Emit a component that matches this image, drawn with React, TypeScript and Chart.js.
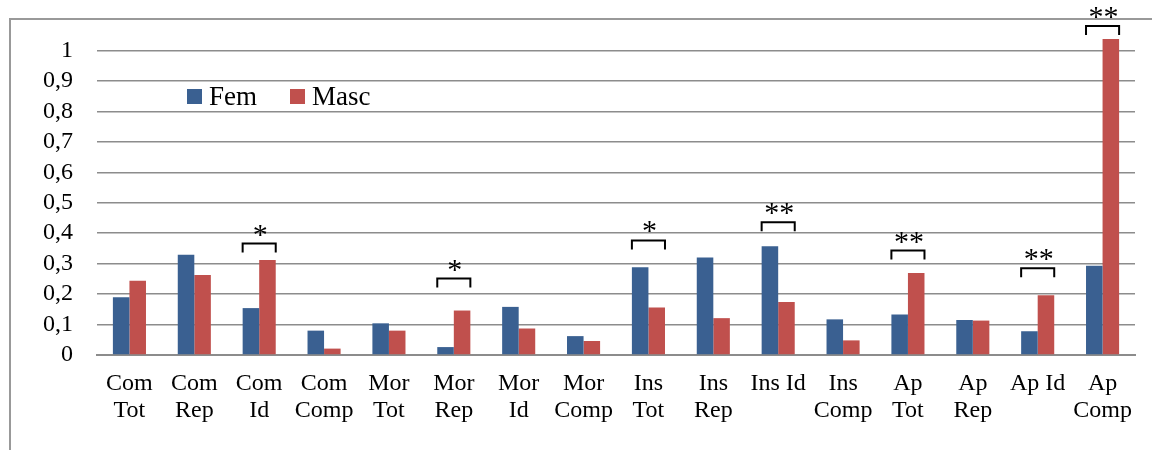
import React, { useEffect, useRef } from "react";
import { Chart, registerables } from "chart.js";

Chart.register(...registerables);

const categories: string[][] = [
  ["Com", "Tot"], ["Com", "Rep"], ["Com", "Id"], ["Com", "Comp"],
  ["Mor", "Tot"], ["Mor", "Rep"], ["Mor", "Id"], ["Mor", "Comp"],
  ["Ins", "Tot"], ["Ins", "Rep"], ["Ins Id"], ["Ins", "Comp"],
  ["Ap", "Tot"], ["Ap", "Rep"], ["Ap Id"], ["Ap", "Comp"],
];

const femValues = [0.19, 0.329, 0.154, 0.08, 0.104, 0.026, 0.158, 0.062, 0.288, 0.32, 0.357, 0.117, 0.133, 0.115, 0.078, 0.293];
const mascValues = [0.244, 0.263, 0.312, 0.021, 0.08, 0.146, 0.087, 0.046, 0.156, 0.121, 0.174, 0.048, 0.269, 0.113, 0.196, 1.038];

// significance markers: category index, bracket level (data units), marker text
const sigIndex = [2, 5, 8, 10, 12, 14, 15];
const sigLevel = [0.366, 0.251, 0.376, 0.436, 0.343, 0.285, 1.08];
const sigText = ["*", "*", "*", "**", "**", "**", "**"];

const FONT = "'Liberation Serif', 'Times New Roman', serif";
const GRID = "#8c8c8c";

const sigPlugin = {
  id: "sigPlugin",
  afterDatasetsDraw(chart: any) {
    const ctx = chart.ctx;
    const y = chart.scales.y;
    const m0 = chart.getDatasetMeta(0);
    const m1 = chart.getDatasetMeta(1);
    ctx.save();
    ctx.strokeStyle = "#000";
    ctx.lineWidth = 2;
    ctx.fillStyle = "#000";
    ctx.font = `30px ${FONT}`;
    ctx.textAlign = "center";
    ctx.textBaseline = "alphabetic";
    sigIndex.forEach((idx, k) => {
      const b0 = m0.data[idx];
      const b1 = m1.data[idx];
      const x0 = b0.x - b0.width / 2;
      const x1 = b1.x + b1.width / 2;
      const py = y.getPixelForValue(sigLevel[k]);
      ctx.beginPath();
      ctx.moveTo(x0, py + 9);
      ctx.lineTo(x0, py);
      ctx.lineTo(x1, py);
      ctx.lineTo(x1, py + 9);
      ctx.stroke();
      ctx.fillText(sigText[k], (x0 + x1) / 2 + 1, py);
    });
    ctx.restore();
  },
};

const legendPlugin = {
  id: "inLegend",
  afterDraw(chart: any) {
    const ctx = chart.ctx;
    ctx.save();
    ctx.font = `27px ${FONT}`;
    ctx.textBaseline = "alphabetic";
    ctx.textAlign = "left";
    const startX = [187, 290];
    chart.data.datasets.forEach((ds: any, i: number) => {
      ctx.fillStyle = ds.backgroundColor;
      ctx.fillRect(startX[i], 89, 15, 15);
      ctx.fillStyle = "#000";
      ctx.fillText(ds.label, startX[i] + 22, 105);
    });
    ctx.restore();
  },
};

export default function App() {
  const ref = useRef<HTMLCanvasElement>(null);
  useEffect(() => {
    if (!ref.current) return;
    const chart = new Chart(ref.current, {
      type: "bar",
      data: {
        labels: categories,
        datasets: [
          { label: "Fem", data: femValues, backgroundColor: "#3A6091" },
          { label: "Masc", data: mascValues, backgroundColor: "#C0504D" },
        ],
      },
      options: {
        animation: false,
        responsive: false,
        devicePixelRatio: 1,
        layout: { padding: { top: 20, right: 17, left: 0, bottom: 0 } },
        plugins: { legend: { display: false }, tooltip: { enabled: false } },
        datasets: { bar: { categoryPercentage: 0.51, barPercentage: 1 } },
        scales: {
          x: {
            grid: { display: false, drawTicks: false },
            border: { display: true, color: GRID, width: 2 },
            ticks: {
              color: "#000",
              font: { family: FONT, size: 24, lineHeight: 1.12 },
              padding: 15,
              maxRotation: 0,
              autoSkip: false,
            },
            afterFit: (s: any) => { s.height = 95; s.paddingLeft = 0; s.paddingRight = 0; },
          },
          y: {
            min: 0,
            max: 1.1,
            border: { display: false },
            grid: {
              drawTicks: false,
              lineWidth: 1.5,
              color: (c: any) => (c.tick && c.tick.value > 1.05 ? "rgba(0,0,0,0)" : GRID),
            },
            ticks: {
              stepSize: 0.1,
              autoSkip: false,
              color: "#000",
              padding: 24,
              font: { family: FONT, size: 24 },
              callback: (v: any) => {
                const n = Math.round(Number(v) * 10) / 10;
                if (n > 1.05) return "";
                return String(n).replace(".", ",");
              },
            },
            afterFit: (s: any) => { s.width = 97; s.paddingTop = 0; s.paddingBottom = 0; },
          },
        },
      },
      plugins: [sigPlugin, legendPlugin],
    });
    return () => chart.destroy();
  }, []);

  return (
    <div style={{ position: "fixed", left: 0, top: 0, width: 1152, height: 450, background: "#fff", overflow: "hidden" }}>
      <div style={{ position: "absolute", left: 9, top: 18, width: 1200, height: 500, borderLeft: "2px solid #999", borderTop: "2px solid #999" }} />
      <canvas ref={ref} width={1152} height={450} style={{ position: "absolute", left: 0, top: 0 }} />
    </div>
  );
}
